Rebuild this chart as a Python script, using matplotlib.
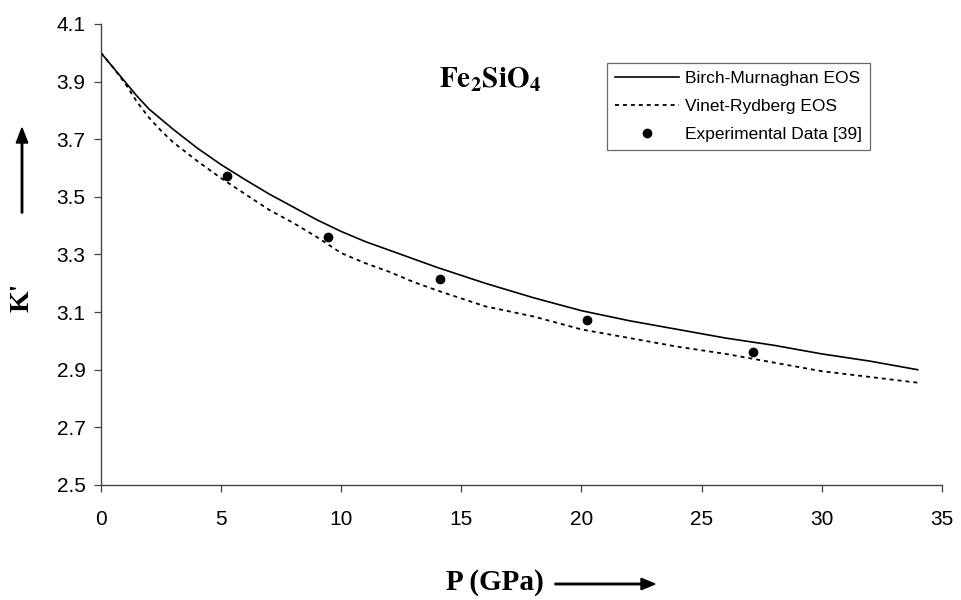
import matplotlib
matplotlib.use("Agg")
import matplotlib.pyplot as plt

# pressure (GPa) and K' values
p_bm = [0, 0.5, 1, 1.5, 2, 2.5, 3, 4, 5, 6, 7, 8, 9, 10, 11, 12, 13, 14, 16, 18, 20, 22, 24, 26, 28, 30, 32, 34]
k_bm = [4.00, 3.95, 3.90, 3.85, 3.805, 3.77, 3.735, 3.67, 3.612, 3.56, 3.51, 3.465, 3.42, 3.38,
        3.345, 3.315, 3.285, 3.255, 3.20, 3.15, 3.105, 3.07, 3.04, 3.01, 2.985, 2.955, 2.93, 2.90]

p_vr = [0, 0.5, 1, 1.5, 2, 2.5, 3, 4, 5, 6, 7, 8, 9, 10, 11, 12, 13, 14, 16, 18, 20, 22, 24, 26, 28, 30, 32, 34]
k_vr = [4.00, 3.95, 3.895, 3.83, 3.775, 3.73, 3.69, 3.625, 3.565, 3.51, 3.455, 3.41, 3.36, 3.305,
        3.27, 3.24, 3.205, 3.175, 3.12, 3.085, 3.04, 3.01, 2.98, 2.955, 2.925, 2.895, 2.875, 2.855]

p_exp = [5.25, 9.45, 14.1, 20.25, 27.15]
k_exp = [3.573, 3.361, 3.215, 3.073, 2.962]

x_ticks = [0, 5, 10, 15, 20, 25, 30, 35]
y_ticks = [2.5, 2.7, 2.9, 3.1, 3.3, 3.5, 3.7, 3.9, 4.1]

plt.rcParams["font.family"] = ["Liberation Sans", "DejaVu Sans"]
plt.rcParams["mathtext.fontset"] = "stix"

fig = plt.figure(figsize=(9.61, 6.0), dpi=100)
ax = fig.add_axes([0.105, 0.1917, 0.875, 0.7683])

ax.plot(p_bm, k_bm, color="black", lw=1.2, label="Birch-Murnaghan EOS")
ax.plot(p_vr, k_vr, color="black", lw=1.3, dashes=(2.2, 2.2), label="Vinet-Rydberg EOS")
ax.plot(p_exp, k_exp, "o", color="black", ms=6, ls="none", label="Experimental Data [39]")

ax.set_xlim(0, 35)
ax.set_ylim(2.5, 4.1)
ax.set_xticks(x_ticks)
ax.set_yticks(y_ticks)
ax.set_yticklabels([f"{v:.1f}" for v in y_ticks])

for s in ["top", "right"]:
    ax.spines[s].set_visible(False)
for s in ["left", "bottom"]:
    ax.spines[s].set_color("#444444")
    ax.spines[s].set_linewidth(1.0)

ax.tick_params(axis="both", direction="out", length=5, width=0.9, color="#444444")
ax.tick_params(axis="y", labelsize=15, pad=6)
ax.tick_params(axis="x", labelsize=15, pad=13)

leg = ax.legend(loc="upper left", bbox_to_anchor=(0.602, 0.915), frameon=True,
                fancybox=False, edgecolor="#444444", fontsize=12.5, handlelength=3.7,
                borderpad=0.45, labelspacing=0.73, handletextpad=0.35, borderaxespad=0)
leg.get_frame().set_linewidth(0.9)

ax.text(0.4625, 0.878, r"$\mathbf{Fe_2SiO_4}$", transform=ax.transAxes,
        ha="center", va="center", fontsize=21)

# axis labels with arrows
fig.text(22 / 961, 1 - 297 / 600, "K'", rotation=90, ha="center", va="center",
         fontsize=20, fontweight="bold", family=["Liberation Serif", "DejaVu Serif"])
fig.text(495 / 961, 1 - 583 / 600, "P (GPa)", ha="center", va="center",
         fontsize=21, fontweight="bold", family=["Liberation Serif", "DejaVu Serif"])

fig.patches.append(matplotlib.patches.FancyArrow(
    22 / 961, 1 - 213 / 600, 0, 70 / 600, width=0.0015, head_width=0.012,
    head_length=15 / 600, length_includes_head=False, color="black",
    transform=fig.transFigure, figure=fig))
fig.patches.append(matplotlib.patches.FancyArrow(
    555 / 961, 1 - 584 / 600, 86 / 961, 0, width=0.0025, head_width=0.019,
    head_length=14 / 961, length_includes_head=False, color="black",
    transform=fig.transFigure, figure=fig))

fig.savefig("out.png", dpi=100)
